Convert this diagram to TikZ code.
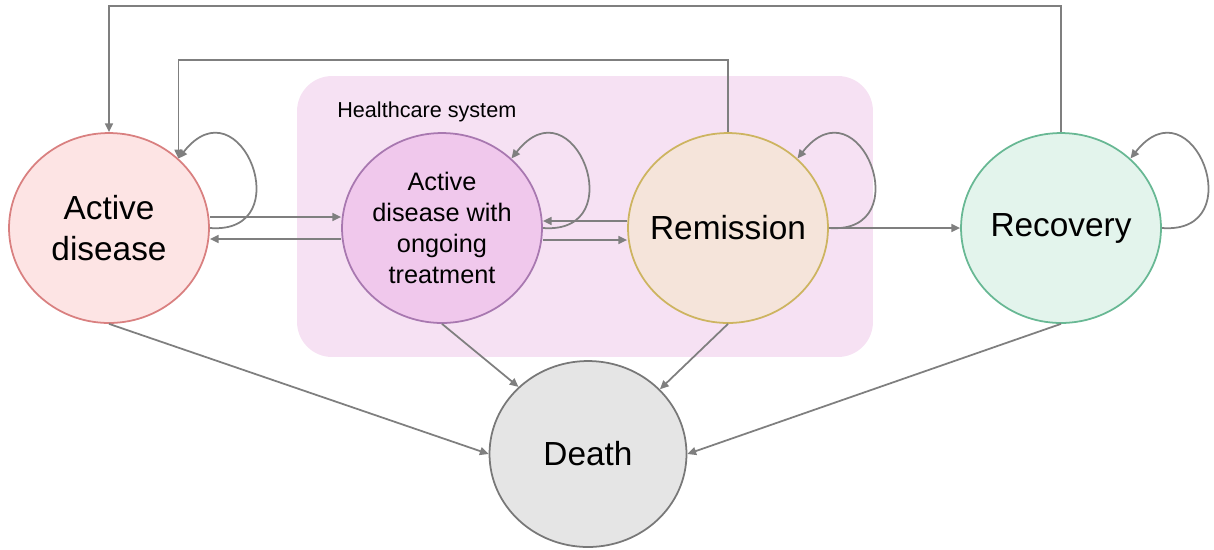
\documentclass[tikz,border=0pt]{standalone}
\usepackage{fontspec}
\setmainfont{Liberation Sans}
\usetikzlibrary{arrows.meta,shapes.geometric}

\definecolor{linegray}{HTML}{7F7F7F}
\definecolor{activefill}{HTML}{FDE4E4}
\definecolor{activerim}{HTML}{D98080}
\definecolor{treatfill}{HTML}{F0C8EC}
\definecolor{treatrim}{HTML}{A878B0}
\definecolor{remfill}{HTML}{F5E4DA}
\definecolor{remrim}{HTML}{CDB460}
\definecolor{recfill}{HTML}{E3F4EC}
\definecolor{recrim}{HTML}{68B894}
\definecolor{deathfill}{HTML}{E5E5E5}
\definecolor{deathrim}{HTML}{787878}
\definecolor{hcfill}{HTML}{F6E1F3}

\tikzset{
  state/.style={ellipse, inner xsep=-18pt, inner ysep=0pt, align=center,
    line width=1pt, minimum width=4cm, minimum height=3.8cm},
  bigtext/.style={font=\fontsize{19}{23}\selectfont},
  arr/.style={draw=linegray, line width=1pt,
    -{Triangle[length=5pt,width=4.5pt]}},
  selfloop/.style={arr},
}

\begin{document}
\begin{tikzpicture}[x=0.02cm, y=-0.02cm]
  \useasboundingbox (0,0) rectangle (1214,549);

  % healthcare system region
  \node[fill=hcfill, rounded corners=0.7cm, minimum width=11.52cm,
        minimum height=5.62cm, inner sep=0pt] (hc) at (585,216.5) {};
  \node[anchor=base west, inner sep=0pt, font=\fontsize{12.3}{15}\selectfont]
        (hclabel) at (337,117) {Healthcare system};

  % states
  \node[state, bigtext, fill=activefill, draw=activerim] (A) at (109,228)
        {Active\\disease};
  \node[state, fill=treatfill, draw=treatrim,
        font=\fontsize{14.4}{17.8}\selectfont] (T) at (442,228)
        {Active\\disease with\\ongoing\\treatment};
  \node[state, bigtext, fill=remfill, draw=remrim] (R) at (728,228)
        {Remission};
  \node[state, bigtext, fill=recfill, draw=recrim] (Rc) at (1061,228)
        {Recovery};
  \node[state, bigtext, fill=deathfill, draw=deathrim,
        minimum width=3.94cm, minimum height=3.72cm] (D) at (588,454)
        {Death};

  % relapse paths over the top
  \draw[arr] (Rc.north) -- ++(0,-126) -| (A.north);
  \draw[arr] (R.north) -- ++(0,-72) -| (A.45);

  % self loops
  \foreach \s in {A,T,R,Rc}
    \draw[selfloop] (\s.east) .. controls +(91,7) and +(62,-79) .. (\s.45);

  % horizontal transitions
  \draw[arr] ([yshift=2.2mm]A.east) -- ([yshift=2.2mm]T.west);
  \draw[arr] ([yshift=-2.2mm]T.west) -- ([yshift=-2.2mm]A.east);
  \draw[arr] ([yshift=1.4mm]R.west) -- ([yshift=1.4mm]T.east);
  \draw[arr] ([yshift=-2.4mm]T.east) -- ([yshift=-2.4mm]R.west);
  \draw[arr] (R.east) -- (Rc.west);

  % transitions to death
  \draw[arr] (A.south) -- (D.west);
  \draw[arr] (T.south) -- (D.136);
  \draw[arr] (R.south) -- (D.42);
  \draw[arr] (Rc.south) -- (D.east);
\end{tikzpicture}
\end{document}
